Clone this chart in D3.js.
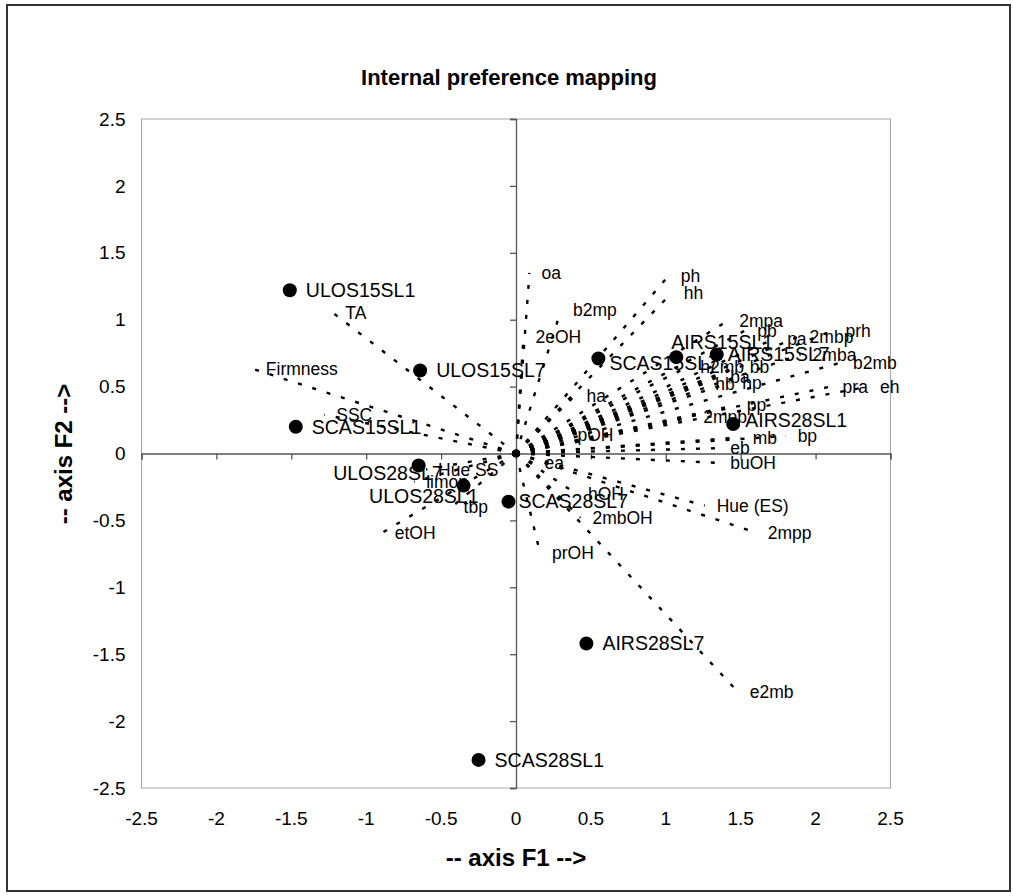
<!DOCTYPE html>
<html>
<head>
<meta charset="utf-8">
<script src="https://cdn.jsdelivr.net/npm/d3@7"></script>
<style>
  html, body { margin: 0; padding: 0; background: #fff; }
  svg { display: block; font-family: Arial, "Liberation Sans", sans-serif; }
</style>
</head>
<body>
<svg id="chart" width="1013" height="896"></svg>
<script>
// Observations (products) on the first two factors
const obsNames = ["ULOS15SL1", "ULOS15SL7", "SCAS15SL1", "ULOS28SL7", "ULOS28SL1", "SCAS28SL7",
                  "SCAS28SL1", "AIRS28SL7", "AIRS28SL1", "AIRS15SL7", "AIRS15SL1", "SCAS15SL7"];
const obsF1 = [-1.51, -0.64, -1.47, -0.65, -0.35, -0.05, -0.25, 0.47, 1.45, 1.34, 1.07, 0.55];
const obsF2 = [1.22, 0.62, 0.20, -0.09, -0.24, -0.36, -2.29, -1.42, 0.22, 0.74, 0.72, 0.71];

// Variables (attributes, volatiles) drawn as vectors from the origin
const varNames = ["oa", "b2mp", "2eOH", "ph", "hh", "2mpa", "pb", "pa", "2mbp", "prh", "2mba", "b2mb",
                  "pra", "eh", "h2mb", "bb", "ba", "hb", "hp", "pp", "2mpb", "mb", "bp", "eb", "buOH",
                  "ha", "pOH", "ea", "hOH", "2mbOH", "prOH", "Hue (ES)", "2mpp", "e2mb",
                  "TA", "Firmness", "SSC", "Hue SS", "limon", "tbp", "etOH"];
const varF1 = [0.09, 0.30, 0.05, 1.02, 1.04, 1.41, 1.53, 1.73, 1.88, 2.12, 1.90, 2.17,
               2.10, 2.35, 1.15, 1.48, 1.35, 1.25, 1.43, 1.46, 1.17, 1.50, 1.80, 1.35, 1.35,
               0.39, 0.33, 0.11, 0.40, 0.43, 0.16, 1.26, 1.60, 1.48,
               -1.22, -1.75, -1.28, -0.60, -0.68, -0.43, -0.89];
const varF2 = [1.35, 1.07, 0.87, 1.33, 1.20, 0.99, 0.92, 0.86, 0.87, 0.92, 0.74, 0.68,
               0.50, 0.50, 0.65, 0.65, 0.57, 0.52, 0.53, 0.36, 0.27, 0.12, 0.13, 0.04, -0.07,
               0.43, 0.14, -0.07, -0.30, -0.48, -0.74, -0.39, -0.59, -1.78,
               1.05, 0.63, 0.29, -0.12, -0.21, -0.40, -0.59];

const tickValues = [-2.5, -2, -1.5, -1, -0.5, 0, 0.5, 1, 1.5, 2, 2.5];
const chartTitle = "Internal preference mapping";
const xTitle = "-- axis F1 -->";
const yTitle = "-- axis F2 -->";

// Label placement overrides for crowded observation labels
const obsLabelPlace = {
  "ULOS28SL7": { anchor: "end", dx: 24, dy: 8 },
  "ULOS28SL1": { anchor: "end", dx: 15, dy: 11 },
  "AIRS15SL1": { anchor: "start", dx: -5, dy: -15 },
  "SCAS15SL7": { anchor: "start", dx: 11, dy: 5 },
  "SCAS28SL7": { anchor: "start", dx: 10, dy: 0 },
  "AIRS15SL7": { anchor: "start", dx: 11, dy: 0 },
  "AIRS28SL1": { anchor: "start", dx: 12, dy: -4 }
};

const svg = d3.select("#chart");
const W = 1013, H = 896;
const plot = { left: 141.5, right: 890.5, top: 119, bottom: 788 };

// Outer chart frame
svg.append("rect")
  .attr("x", 0).attr("y", 0).attr("width", W).attr("height", H).attr("fill", "#fff");
svg.append("rect")
  .attr("x", 7).attr("y", 5).attr("width", 1003).attr("height", 886)
  .attr("fill", "none").attr("stroke", "#333").attr("stroke-width", 2);

const x = d3.scaleLinear().domain([-2.5, 2.5]).range([plot.left, plot.right]);
const y = d3.scaleLinear().domain([-2.5, 2.5]).range([plot.bottom, plot.top]);

// Plot area border
svg.append("rect")
  .attr("x", plot.left).attr("y", plot.top)
  .attr("width", plot.right - plot.left).attr("height", plot.bottom - plot.top)
  .attr("fill", "none").attr("stroke", "#a6a6a6").attr("stroke-width", 1);

// Axes crossing at the origin, tick labels along the plot edges
const fmt = d => String(d);
const xAxis = svg.append("g")
  .attr("transform", `translate(0,${y(0)})`)
  .call(d3.axisBottom(x).tickValues(tickValues).tickSize(6).tickFormat(""));
const yAxis = svg.append("g")
  .attr("transform", `translate(${x(0)},0)`)
  .call(d3.axisLeft(y).tickValues(tickValues).tickSize(6).tickFormat(""));
[xAxis, yAxis].forEach(g => {
  g.selectAll("path").attr("stroke", "#555").attr("stroke-width", 1.3);
  g.selectAll("line").attr("stroke", "#555").attr("stroke-width", 1.3);
});

svg.append("g").selectAll("text").data(tickValues).join("text")
  .attr("x", d => x(d)).attr("y", plot.bottom + 30)
  .attr("text-anchor", "middle").attr("dy", "0.35em")
  .attr("font-size", 19).attr("fill", "#000")
  .text(fmt);
svg.append("g").selectAll("text").data(tickValues).join("text")
  .attr("x", plot.left - 16).attr("y", d => y(d))
  .attr("text-anchor", "end").attr("dy", "0.35em")
  .attr("font-size", 19).attr("fill", "#000")
  .text(fmt);

// Titles
svg.append("text")
  .attr("x", 509).attr("y", 77).attr("dy", "0.35em")
  .attr("text-anchor", "middle").attr("font-weight", "bold").attr("font-size", 22)
  .text(chartTitle);
svg.append("text")
  .attr("x", 516).attr("y", 858).attr("dy", "0.35em")
  .attr("text-anchor", "middle").attr("font-weight", "bold").attr("font-size", 24)
  .text(xTitle);
svg.append("text")
  .attr("transform", `translate(64,454) rotate(-90)`).attr("dy", "0.35em")
  .attr("text-anchor", "middle").attr("font-weight", "bold").attr("font-size", 24)
  .text(yTitle);

// Variable vectors
const vars = varNames.map((n, i) => ({ name: n, f1: varF1[i], f2: varF2[i] }));
const gVars = svg.append("g");
gVars.selectAll("line").data(vars).join("line")
  .attr("x1", x(0)).attr("y1", y(0))
  .attr("x2", d => x(d.f1)).attr("y2", d => y(d.f2))
  .attr("stroke", "#000").attr("stroke-width", 2.4)
  .attr("stroke-dasharray", "4,11");
gVars.selectAll("text").data(vars).join("text")
  .attr("x", d => x(d.f1) + 12).attr("y", d => y(d.f2))
  .attr("dy", "0.35em").attr("font-size", 17.5).attr("fill", "#000")
  .text(d => d.name);

// Origin marker
svg.append("circle").attr("cx", x(0)).attr("cy", y(0)).attr("r", 4).attr("fill", "#000");

// Observations
const obs = obsNames.map((n, i) => ({ name: n, f1: obsF1[i], f2: obsF2[i] }));
const gObs = svg.append("g");
gObs.selectAll("circle").data(obs).join("circle")
  .attr("cx", d => x(d.f1)).attr("cy", d => y(d.f2)).attr("r", 7).attr("fill", "#000");
gObs.selectAll("text").data(obs).join("text")
  .attr("x", d => x(d.f1) + (obsLabelPlace[d.name] ? obsLabelPlace[d.name].dx : 16))
  .attr("y", d => y(d.f2) + (obsLabelPlace[d.name] ? obsLabelPlace[d.name].dy : 0))
  .attr("text-anchor", d => obsLabelPlace[d.name] ? obsLabelPlace[d.name].anchor : "start")
  .attr("dy", "0.35em").attr("font-size", 19.5).attr("fill", "#000")
  .text(d => d.name);
</script>
</body>
</html>
